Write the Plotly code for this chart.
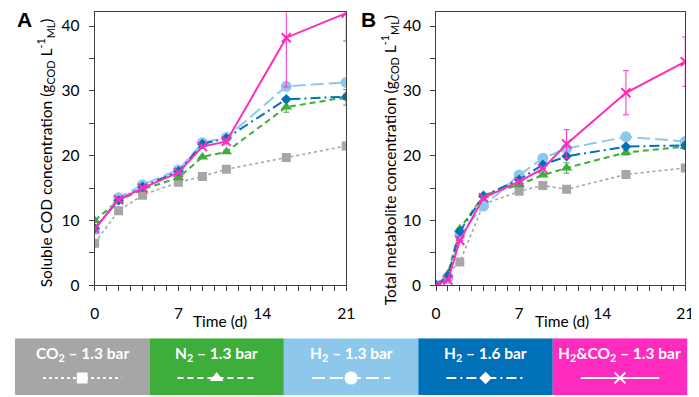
import plotly.graph_objects as go

# ---------------- data ----------------
days_a = [0, 2, 4, 7, 9, 11, 16, 21]
cod_co2 = [6.5, 11.5, 13.9, 15.9, 16.8, 17.9, 19.7, 21.5]
cod_n2 = [10.0, 13.1, 14.8, 16.6, 19.8, 20.6, 27.5, 29.0]
cod_h2_13 = [8.6, 13.5, 15.5, 17.8, 22.0, 22.8, 30.7, 31.3]
cod_h2_16 = [8.8, 13.1, 15.2, 17.6, 21.8, 22.7, 28.7, 29.1]
cod_h2co2 = [8.7, 13.2, 15.0, 17.4, 21.4, 22.2, 38.2, 42.0]
err_a_co2 = [0, 0, 0, 0, 0, 0, 0, 0]
err_a_n2 = [0, 0, 0, 0, 0, 0, 0.8, 1.2]
err_a_h2_13 = [0, 0, 0, 0, 0, 0, 0, 0.4]
err_a_h2_16 = [0, 0, 0, 0, 0, 0, 0.3, 0.4]
err_a_h2co2 = [0, 0, 0, 0, 0, 0.4, 7.6, 4.3]

days_b_co2 = [0, 2, 4, 7, 9, 11, 16, 21]
days_b = [0, 1, 2, 4, 7, 9, 11, 16, 21]
met_co2 = [0.0, 3.6, 12.5, 14.5, 15.4, 14.8, 17.1, 18.1]
met_n2 = [0.0, 1.8, 8.7, 13.9, 15.5, 17.0, 18.1, 20.5, 21.4]
met_h2_13 = [0.0, 1.05, 7.9, 12.2, 17.0, 19.6, 21.1, 22.9, 22.2]
met_h2_16 = [0.0, 1.4, 8.3, 13.8, 16.3, 18.6, 19.9, 21.4, 21.6]
met_h2co2 = [0.0, 0.8, 6.9, 13.5, 16.0, 18.0, 21.8, 29.7, 34.5]
err_b_co2 = [0, 0, 0, 0, 0, 0, 0, 0]
err_b_n2 = [0, 0, 0, 0, 0, 0, 0.8, 0.4, 0.4]
err_b_h2_13 = [0, 0, 0, 0, 0, 0, 0, 0, 0]
err_b_h2_16 = [0, 0, 0, 0, 0, 0, 0, 0.3, 0.3]
err_b_h2co2 = [0, 0, 0, 0, 0, 0, 2.2, 3.4, 3.8]

labels = ["CO<sub>2</sub> – 1.3 bar", "N<sub>2</sub> – 1.3 bar", "H<sub>2</sub> – 1.3 bar",
          "H<sub>2</sub> – 1.6 bar", "H<sub>2</sub>&amp;CO<sub>2</sub> – 1.3 bar"]
x_ticks = [0, 7, 14, 21]
x_title = "Time (d)"
ytitle_a = "Soluble COD concentration (g<sub>COD</sub> L<sup>-1</sup><sub>ML</sub>)"
ytitle_b = "Total metabolite concentration (g<sub>COD</sub> L<sup>-1</sup><sub>ML</sub>)"

# ---------------- styles ----------------
colors = ["#A6A6A6", "#3DAE3A", "#8DC8EC", "#0070B8", "#FF2BBF"]
dashes = ["dot", "6px,4px", "13px,5px", "10px,4px,2px,4px", "solid"]
widths = [1.6, 2, 2, 2, 2]
symbols = ["square", "triangle-up", "circle", "diamond", "x-thin"]
msizes = [9, 10, 11, 8, 9]

FONT = "Lato"
W, H = 699, 397
AX = "#404040"

fig = go.Figure()

series_a = [cod_co2, cod_n2, cod_h2_13, cod_h2_16, cod_h2co2]
errs_a = [err_a_co2, err_a_n2, err_a_h2_13, err_a_h2_16, err_a_h2co2]
series_b = [met_co2, met_n2, met_h2_13, met_h2_16, met_h2co2]
errs_b = [err_b_co2, err_b_n2, err_b_h2_13, err_b_h2_16, err_b_h2co2]
xs_b = [days_b_co2, days_b, days_b, days_b, days_b]


def marker(i, color=None, scale=1.0):
    c = color or colors[i]
    if symbols[i] == "x-thin":
        return dict(symbol="x-thin", size=msizes[i] * scale, color=c, line=dict(color=c, width=2))
    return dict(symbol=symbols[i], size=msizes[i] * scale, color=c, line=dict(width=0))


for xs_list, ys_list, es_list, xa, ya in [
        ([days_a] * 5, series_a, errs_a, "x", "y"),
        (xs_b, series_b, errs_b, "x2", "y2")]:
    for i in range(5):
        fig.add_trace(go.Scatter(
            x=xs_list[i], y=ys_list[i], mode="markers", xaxis=xa, yaxis=ya,
            marker=dict(size=1, opacity=0),
            error_y=dict(type="data", array=es_list[i], visible=True,
                         color=colors[i], thickness=1, width=3),
            showlegend=False, hoverinfo="skip", cliponaxis=True))
        fig.add_trace(go.Scatter(
            x=xs_list[i], y=ys_list[i], mode="lines+markers", xaxis=xa, yaxis=ya,
            line=dict(color=colors[i], width=widths[i], dash=dashes[i]),
            marker=marker(i), showlegend=False, cliponaxis=True))

# ---------------- legend band (own axis in pixel units) ----------------
box_left, box_right = 2, 688
box_w = (box_right - box_left) / 5
for i in range(5):
    x0 = box_left + i * box_w
    cx = x0 + box_w / 2
    fig.add_trace(go.Scatter(
        x=[cx - 40, cx + 40], y=[0.3, 0.3], mode="lines", xaxis="x3", yaxis="y3",
        line=dict(color="white", width=widths[i] + 0.2, dash=dashes[i]),
        showlegend=False, hoverinfo="skip"))
    fig.add_trace(go.Scatter(
        x=[cx], y=[0.3], mode="markers", xaxis="x3", yaxis="y3",
        marker=marker(i, "white", 1.2), showlegend=False, hoverinfo="skip"))

shapes = []
annotations = []
for i in range(5):
    x0 = box_left + i * box_w
    shapes.append(dict(type="rect", xref="x3", yref="y3", x0=x0, x1=x0 + box_w,
                       y0=0, y1=1, fillcolor=colors[i], line=dict(width=0), layer="below"))
    annotations.append(dict(xref="x3", yref="y3", x=x0 + box_w / 2, y=0.73,
                            text="<b>" + labels[i] + "</b>", showarrow=False,
                            font=dict(family=FONT, size=15.5, color="white")))

title_font = dict(family=FONT, size=15.5, color="black")
annotations += [
    dict(xref="paper", yref="paper", x=2 / W, y=1 - 12 / H, text="<b>A</b>", showarrow=False,
         xanchor="left", yanchor="middle", font=dict(family="Liberation Sans", size=21, color="black")),
    dict(xref="paper", yref="paper", x=353 / W, y=1 - 12 / H, text="<b>B</b>", showarrow=False,
         xanchor="left", yanchor="middle", font=dict(family="Liberation Sans", size=21, color="black")),
    dict(xref="paper", yref="paper", x=33 / W, y=1 - 148 / H, text=ytitle_a, textangle=-90,
         showarrow=False, xanchor="center", yanchor="middle", font=title_font),
    dict(xref="paper", yref="paper", x=385 / W, y=1 - 155 / H, text=ytitle_b, textangle=-90,
         showarrow=False, xanchor="center", yanchor="middle", font=title_font),
    dict(xref="paper", yref="paper", x=211 / W, y=1 - 319 / H, text=x_title,
         showarrow=False, xanchor="center", yanchor="middle", font=title_font),
    dict(xref="paper", yref="paper", x=560 / W, y=1 - 319 / H, text=x_title,
         showarrow=False, xanchor="center", yanchor="middle", font=title_font),
]

axis_common = dict(showline=True, linecolor=AX, linewidth=1, mirror=True,
                   ticks="outside", ticklen=5, tickcolor=AX, showgrid=False,
                   zeroline=False, tickfont=dict(family=FONT, size=15.5, color="black"))

xa_common = dict(axis_common, range=[0, 21], tickvals=x_ticks, ticklabelstandoff=9,
                 minor=dict(dtick=1, tick0=0, ticks="outside", ticklen=5, tickcolor=AX))
ya_common = dict(axis_common, range=[0, 42.1], dtick=10, tick0=0, ticklabelstandoff=6,
                 minor=dict(dtick=5, ticks="outside", ticklen=5, tickcolor=AX))

y_dom = [1 - 283 / H, 1 - 4.5 / H]

fig.update_layout(
    width=W, height=H, margin=dict(l=0, r=0, t=0, b=0),
    paper_bgcolor="white", plot_bgcolor="white",
    font=dict(family=FONT, color="black"),
    xaxis=dict(xa_common, domain=[83.3 / W, 340 / W], anchor="y"),
    yaxis=dict(ya_common, domain=y_dom, anchor="x"),
    xaxis2=dict(xa_common, domain=[431.7 / W, 686 / W], anchor="y2"),
    yaxis2=dict(ya_common, domain=y_dom, anchor="x2"),
    xaxis3=dict(domain=[0, 1], range=[0, W], visible=False, anchor="y3", fixedrange=True),
    yaxis3=dict(domain=[2 / H, 60 / H], range=[0, 1], visible=False, anchor="x3", fixedrange=True),
    shapes=shapes, annotations=annotations,
)

fig.write_html("out.html")
